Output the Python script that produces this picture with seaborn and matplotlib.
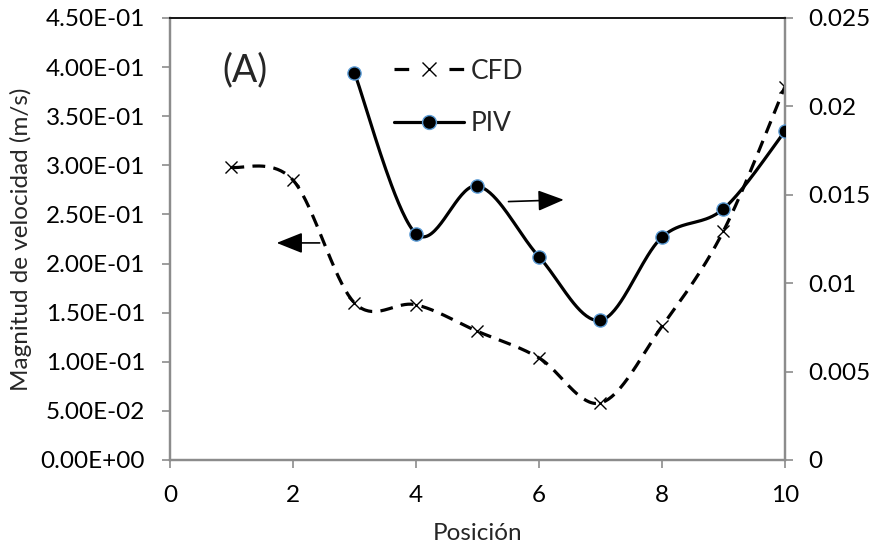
import numpy as np
import pandas as pd
import matplotlib
matplotlib.use("Agg")
import matplotlib.pyplot as plt
import seaborn as sns
from matplotlib.lines import Line2D
from matplotlib.ticker import FixedLocator, FuncFormatter

# ---- data ----
positions_cfd = [1, 2, 3, 4, 5, 6, 7, 8, 9, 10]
cfd = [0.298, 0.285, 0.160, 0.158, 0.131, 0.104, 0.058, 0.136, 0.233, 0.380]
positions_piv = [3, 4, 5, 6, 7, 8, 9, 10]
piv = [0.0219, 0.0128, 0.0155, 0.0115, 0.0079, 0.0126, 0.0142, 0.0186]

left_ticks = [0.0, 0.05, 0.10, 0.15, 0.20, 0.25, 0.30, 0.35, 0.40, 0.45]
right_ticks = [0.0, 0.005, 0.01, 0.015, 0.02, 0.025]
right_tick_labels = ["0", "0.005", "0.01", "0.015", "0.02", "0.025"]
x_ticks = [0, 2, 4, 6, 8, 10]

sns.set_theme(style="white")
plt.rcParams["font.family"] = ["Lato", "DejaVu Sans"]


def smooth_curve(x, y, n=40):
    """Excel-like smoothed line (Catmull-Rom Bezier) through the data points."""
    x = np.asarray(x, float)
    y = np.asarray(y, float)
    px = np.concatenate([[x[0]], x, [x[-1]]])
    py = np.concatenate([[y[0]], y, [y[-1]]])
    xs, ys = [], []
    t = np.linspace(0, 1, n)
    for i in range(len(x) - 1):
        p0 = np.array([px[i], py[i]])
        p1 = np.array([px[i + 1], py[i + 1]])
        p2 = np.array([px[i + 2], py[i + 2]])
        p3 = np.array([px[i + 3], py[i + 3]])
        c1 = p1 + (p2 - p0) / 6.0
        c2 = p2 - (p3 - p1) / 6.0
        b = (((1 - t) ** 3)[:, None] * p1 + (3 * (1 - t) ** 2 * t)[:, None] * c1
             + (3 * (1 - t) * t ** 2)[:, None] * c2 + (t ** 3)[:, None] * p2)
        xs.extend(b[:, 0])
        ys.extend(b[:, 1])
    return pd.DataFrame({"x": xs, "y": ys})


fig = plt.figure(figsize=(8.76, 5.52), dpi=100)
ax = fig.add_axes([0.194, 0.1667, 0.702, 0.8007])
ax2 = ax.twinx()

edge_blue = "#5B9BD5"
lw = 2.3

# CFD on left axis
df_cfd = smooth_curve(positions_cfd, cfd)
sns.lineplot(data=df_cfd, x="x", y="y", ax=ax, sort=False, estimator=None,
             color="black", linewidth=lw, linestyle=(0, (4.0, 2.6)))
sns.scatterplot(x=positions_cfd, y=cfd, ax=ax, marker="x", s=75,
                color="black", linewidth=1.0, zorder=5)

# PIV on right axis
df_piv = smooth_curve(positions_piv, piv)
sns.lineplot(data=df_piv, x="x", y="y", ax=ax2, sort=False, estimator=None,
             color="black", linewidth=lw)
sns.scatterplot(x=positions_piv, y=piv, ax=ax2, marker="o", s=90,
                color="black", edgecolor=edge_blue, linewidth=1.0, zorder=5)

# axes limits / ticks
ax.set_xlim(0, 10)
ax.set_ylim(0, 0.45)
ax2.set_ylim(0, 0.025)
ax.xaxis.set_major_locator(FixedLocator(x_ticks))
ax.yaxis.set_major_locator(FixedLocator(left_ticks))
ax.yaxis.set_major_formatter(FuncFormatter(lambda v, p: f"{v:.2E}"))
ax2.yaxis.set_major_locator(FixedLocator(right_ticks))
ax2.set_yticklabels(right_tick_labels)

fs = 17.5
gray = "#8c8c8c"
for a in (ax, ax2):
    for s in ("left", "right", "bottom"):
        a.spines[s].set_color(gray)
        a.spines[s].set_linewidth(1.6)
    a.spines["top"].set_color("#1a1a1a")
    a.spines["top"].set_linewidth(1.4)
    a.tick_params(axis="both", length=6, width=1.2, color=gray,
                  labelsize=fs, labelcolor="black", direction="out")
ax.tick_params(axis="y", left=True, right=False, pad=12)
ax.tick_params(axis="x", bottom=True, pad=12)
ax2.tick_params(axis="y", right=True, left=False, pad=11)

ax.set_xlabel("Posición", fontsize=fs, labelpad=12)
ax.set_ylabel("Magnitud de velocidad (m/s)", fontsize=fs, labelpad=6)
ax2.set_ylabel("")

# arrows
arrow_kw = dict(arrowstyle="-|>,head_length=0.8,head_width=0.32",
                color="black", lw=1.2, mutation_scale=20)
ax.annotate("", xy=(1.69, 0.221), xytext=(2.48, 0.221), arrowprops=arrow_kw)
ax.annotate("", xy=(6.45, 0.265), xytext=(5.46, 0.263), arrowprops=arrow_kw)

# panel label
ax.text(0.086, 0.882, "(A)", transform=ax.transAxes, fontsize=27,
        va="center", ha="left")

# legend
handles = [
    Line2D([], [], color="black", lw=lw, linestyle=(0, (4.6, 12.6)),
           marker="x", markersize=9.5, markeredgewidth=1.0),
    Line2D([], [], color="black", lw=lw, marker="o", markersize=10,
           markerfacecolor="black", markeredgecolor=edge_blue,
           markeredgewidth=1.0),
]
ax2.legend(handles, ["CFD", "PIV"], loc="center left",
           bbox_to_anchor=(0.364, 0.82), frameon=False, fontsize=19,
           handlelength=2.65, handletextpad=0.28, labelspacing=1.05,
           borderpad=0, borderaxespad=0)

fig.savefig("out.png", dpi=100)
